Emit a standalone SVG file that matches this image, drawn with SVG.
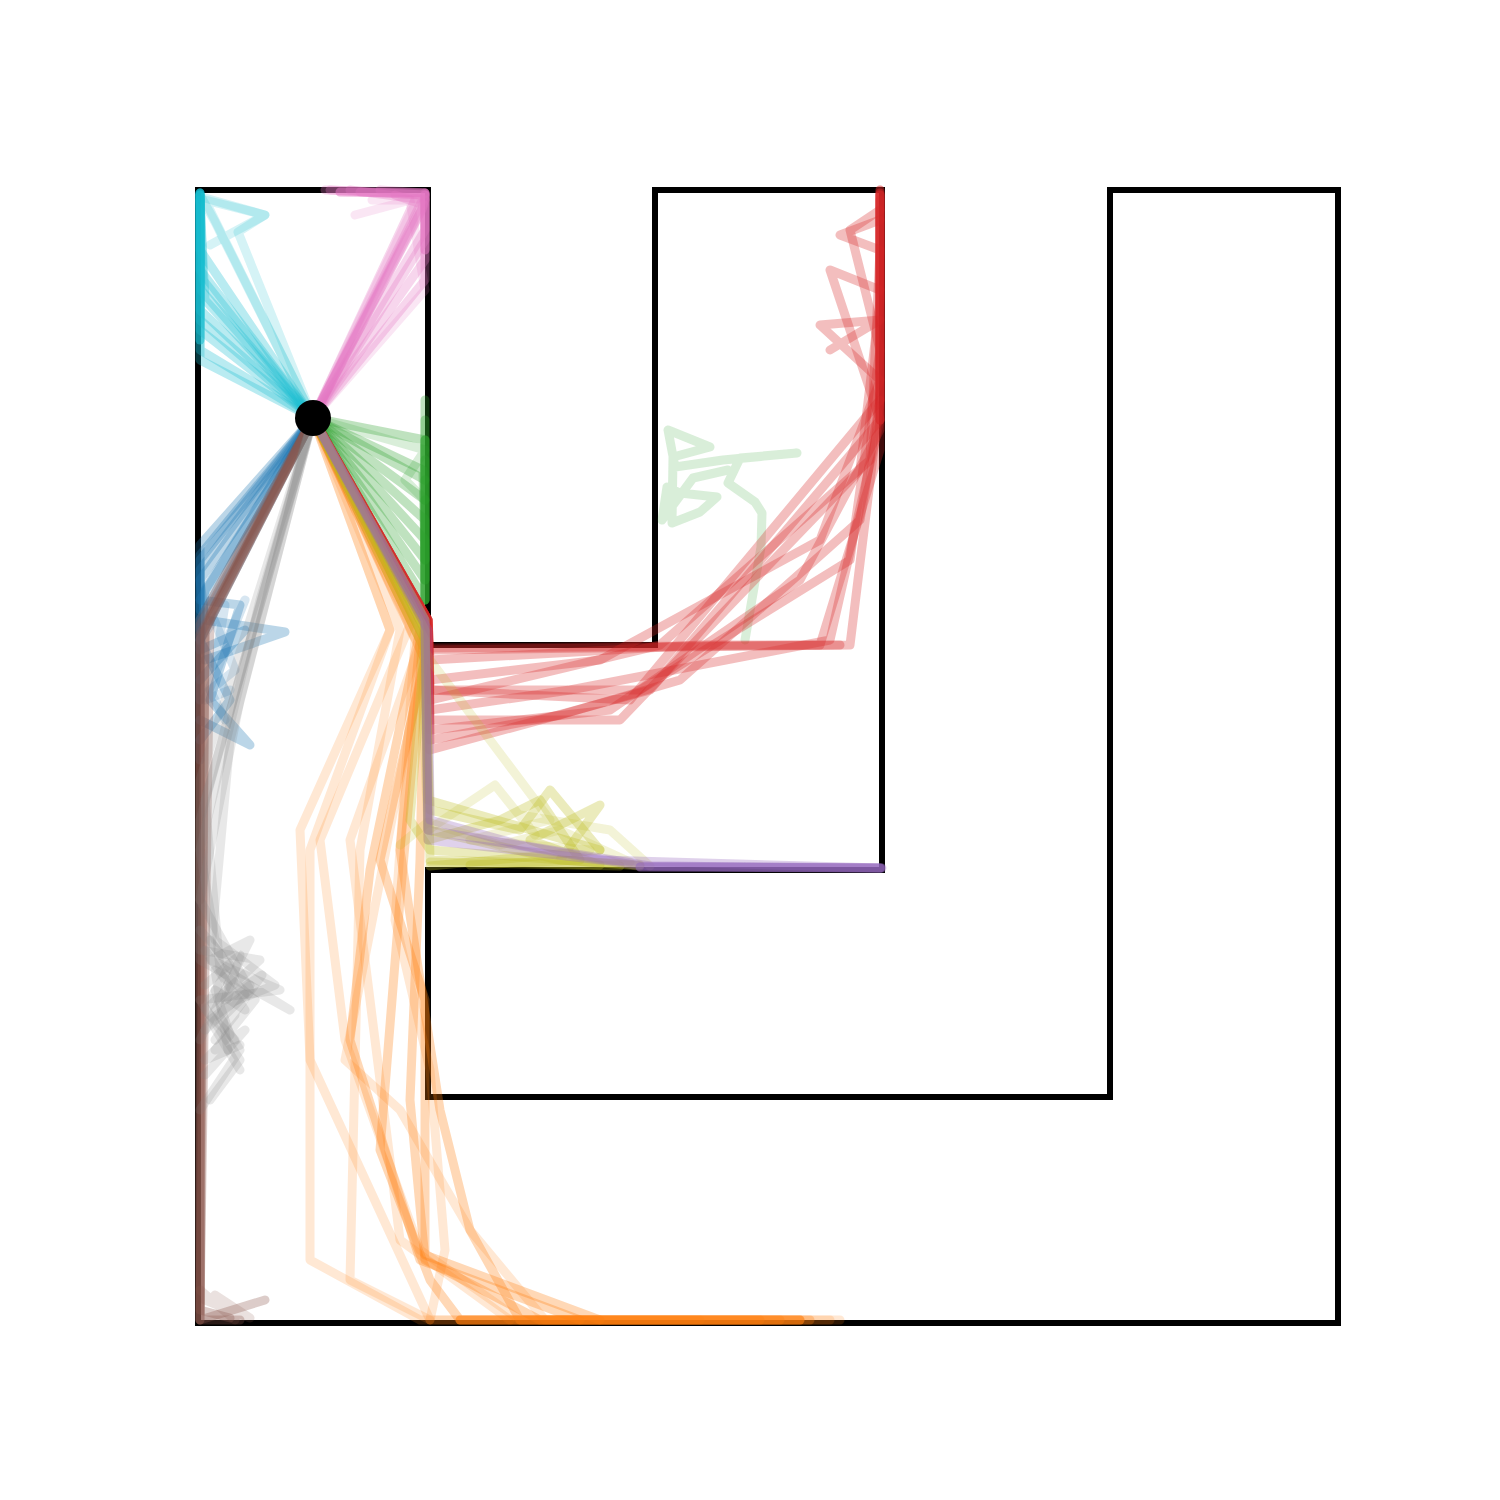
<svg xmlns="http://www.w3.org/2000/svg" width="1500" height="1500" viewBox="0 0 1500 1500">
<style>
.t{fill:none;stroke-width:9;stroke-linecap:round;stroke-linejoin:round;stroke-opacity:0.3}
.l{stroke-opacity:0.18}
.s{stroke-opacity:0.55}
.cy{stroke:#17becf}.pk{stroke:#e377c2}.gr{stroke:#2ca02c}.bl{stroke:#1f77b4}.br{stroke:#8c564b}
.gy{stroke:#7f7f7f}.or{stroke:#ff7f0e}.rd{stroke:#d62728}.ol{stroke:#bcbd22}.pu{stroke:#9467bd}
</style>
<rect width="1500" height="1500" fill="#fff"/>
<g id="maze">
<path d="M198,190 L428,190 L428,645 L655,645 L655,190 L882,190 L882,870 L428,870 L428,1097 L1110,1097 L1110,190 L1338,190 L1338,1323 L198,1323 Z" fill="none" stroke="#000" stroke-width="6"/>
</g>
<g id="trajectories">
<g id="cyan">
<path class="t cy" d="M313,418 L200,350 L200,193"/>
<path class="t cy" d="M313,418 L200,330 L200,195"/>
<path class="t cy" d="M313,418 L200,310 L200,195"/>
<path class="t cy" d="M313,418 L201,290 L200,195"/>
<path class="t cy" d="M313,418 L200,270 L200,195"/>
<path class="t cy" d="M313,418 L200,250 L200,195"/>
<path class="t cy" d="M313,418 L205,300 L200,200"/>
<path class="t cy" d="M313,418 L200,360 L200,200"/>
<path class="t cy" d="M313,418 L200,320 L200,193"/>
<path class="t cy" d="M313,418 L203,280 L200,193"/>
<path class="t cy s" d="M200,193 L200,340"/>
<path class="t cy l" d="M313,418 L238,232 L265,215 L205,198"/>
<path class="t cy l" d="M313,418 L205,200 L265,215 L210,245"/>
<path class="t cy l" d="M313,418 L215,222 L200,195"/>
</g>
<g id="pink">
<path class="t pk" d="M313,418 L425,195 L330,190"/>
<path class="t pk" d="M313,418 L425,200 L350,190"/>
<path class="t pk" d="M313,418 L422,210 L425,193 L380,190"/>
<path class="t pk" d="M313,418 L425,230 L425,193"/>
<path class="t pk" d="M313,418 L425,260 L425,195 L360,192"/>
<path class="t pk" d="M313,418 L425,280 L425,195"/>
<path class="t pk" d="M313,418 L415,200 L425,193 L325,190"/>
<path class="t pk" d="M313,418 L425,240 L425,195"/>
<path class="t pk" d="M313,418 L424,205 L395,195"/>
<path class="t pk s" d="M340,192 L425,193 L425,250"/>
<path class="t pk l" d="M313,418 L418,198 L355,215"/>
<path class="t pk l" d="M313,418 L425,290 L410,200 L372,200"/>
</g>
<g id="green">
<path class="t gr" d="M313,418 L425,440 L425,600"/>
<path class="t gr" d="M313,418 L425,480 L425,400"/>
<path class="t gr" d="M313,418 L425,520 L425,580"/>
<path class="t gr" d="M313,418 L425,560 L425,460"/>
<path class="t gr" d="M313,418 L425,600 L425,500"/>
<path class="t gr" d="M313,418 L425,500 L425,420"/>
<path class="t gr" d="M313,418 L423,470 L425,560"/>
<path class="t gr" d="M313,418 L425,540 L425,600"/>
<path class="t gr" d="M313,418 L425,580 L425,480"/>
<path class="t gr s" d="M425,440 L425,600"/>
<path class="t gr l" d="M313,418 L425,450 L405,480 L425,500"/>
<path class="t gr l" d="M745,640 L761,547 L762,513 L755,502 L728,483 L740,458 L797,453 L723,460 L675,467 L668,430 L710,447 L673,457 L672,523 L700,512 L717,497 L680,493 L667,487 L662,520 L693,478 L728,470"/>
</g>
<g id="blue">
<path class="t bl" d="M313,418 L200,545 L200,640"/>
<path class="t bl" d="M313,418 L200,560 L200,700"/>
<path class="t bl" d="M313,418 L200,580 L205,620 L285,632 L205,660"/>
<path class="t bl" d="M313,418 L200,600 L240,605 L210,700 L250,745 L200,720"/>
<path class="t bl" d="M313,418 L200,620 L200,760"/>
<path class="t bl" d="M313,418 L205,590 L200,650 L245,630 L200,680"/>
<path class="t bl" d="M313,418 L200,640 L230,700 L200,740"/>
<path class="t bl" d="M313,418 L200,570 L200,610"/>
<path class="t bl" d="M313,418 L200,555 L200,630"/>
<path class="t bl l" d="M313,418 L210,610 L235,670 L210,690 L225,720"/>
<path class="t bl l" d="M200,640 L225,605 L215,665 L245,600 L205,700 L230,690"/>
</g>
<g id="brown">
<path class="t br" d="M313,418 L200,625 L200,1320"/>
<path class="t br" d="M313,418 L200,640 L200,1000"/>
<path class="t br" d="M313,418 L205,630 L200,1200 L200,1320 L265,1300"/>
<path class="t br" d="M313,418 L200,635 L200,1320 L240,1320"/>
<path class="t br" d="M313,418 L200,620 L200,900"/>
<path class="t br" d="M313,418 L210,615 L200,1310 L230,1318"/>
<path class="t br" d="M313,418 L205,628 L200,1320"/>
<path class="t br l" d="M200,1290 L235,1320 L215,1295 L250,1318 L205,1300"/>
</g>
<g id="gray">
<path class="t gy l" d="M313,418 L200,780 L200,960 L290,1010 L210,960 L250,940 L200,1040"/>
<path class="t gy l" d="M313,418 L230,740 L210,960 L280,990 L200,1000 L240,1060 L210,1100"/>
<path class="t gy l" d="M313,418 L250,640 L200,820 L200,950 L260,960 L205,1010 L235,1040"/>
<path class="t gy l" d="M313,418 L205,800 L220,970 L255,1000 L215,1050 L245,1030 L205,1075"/>
<path class="t gy l" d="M313,418 L240,700 L200,900 L250,990 L210,1020 L240,1070"/>
<path class="t gy l" d="M313,418 L260,600 L200,850 L215,940 L275,985 L225,1005 L250,985 L205,1030"/>
<path class="t gy l" d="M200,930 L230,965 L210,1000 L240,1050 L220,1080 L200,1110"/>
<path class="t gy l" d="M205,950 L245,1010 L215,990 L230,1035 L205,1060 L240,1045"/>
<path class="t gy l" d="M210,940 L235,975 L220,1020 L245,995 L215,970 L228,1050"/>
<path class="t gy l" d="M205,985 L240,955 L225,1000 L262,975 L215,1040 L235,1015"/>
</g>
<g id="orange">
<path class="t or l" d="M313,418 L390,630 L300,830 L310,1060 L430,1320 L800,1320"/>
<path class="t or l" d="M313,418 L410,625 L320,840 L345,1040 L420,1250 L520,1320 L830,1320"/>
<path class="t or l" d="M313,418 L390,630 L310,850 L310,1260 L420,1320 L700,1320"/>
<path class="t or" d="M313,418 L420,630 L370,870 L350,1040 L420,1260 L580,1320"/>
<path class="t or" d="M313,418 L425,640 L420,860 L410,1100 L425,1260 L540,1320 L780,1320"/>
<path class="t or" d="M313,418 L425,620 L400,900 L380,1150 L430,1280 L460,1320 L810,1320"/>
<path class="t or l" d="M313,418 L425,630 L350,840 L370,1000 L400,1240 L510,1320"/>
<path class="t or" d="M313,418 L420,640 L400,850 L440,1110 L470,1230 L520,1320 L760,1320"/>
<path class="t or l" d="M313,418 L400,630 L360,850 L350,1280 L430,1320"/>
<path class="t or l" d="M313,418 L425,650 L345,1060 L400,1110 L470,1230 L545,1320 L840,1320"/>
<path class="t or" d="M313,418 L425,660 L380,860 L425,1000 L425,1255 L600,1320"/>
<path class="t or l" d="M313,418 L415,640 L395,920 L430,1070 L445,1250 L430,1320"/>
<path class="t or s" d="M460,1320 L800,1320"/>
</g>
<g id="red">
<path class="t rd" d="M313,418 L428,620 L430,690 L630,700 L880,400 L880,190"/>
<path class="t rd" d="M313,418 L428,620 L430,650 L850,645 L880,400 L880,200"/>
<path class="t rd" d="M313,418 L428,620 L430,720 L620,720 L860,470 L880,300 L880,195"/>
<path class="t rd" d="M313,418 L428,620 L430,750 L650,690 L880,420 L880,195"/>
<path class="t rd" d="M313,418 L428,620 L430,700 L660,645 L870,460 L880,250 L840,235 L880,220"/>
<path class="t rd" d="M313,418 L428,625 L430,680 L600,660 L820,540 L880,380 L820,325 L880,320 L830,350"/>
<path class="t rd" d="M313,418 L428,620 L430,710 L570,690 L830,640 L880,420 L830,270 L880,290"/>
<path class="t rd" d="M313,418 L428,620 L430,660 L700,645 L820,645 L880,450 L880,190"/>
<path class="t rd" d="M313,418 L428,620 L430,740 L560,715 L680,680 L860,520 L880,400"/>
<path class="t rd" d="M313,418 L428,620 L430,690 L640,690 L850,560 L880,350 L850,230 L880,210"/>
<path class="t rd" d="M313,418 L428,630 L430,730 L610,710 L800,580 L880,430 L880,195"/>
<path class="t rd s" d="M880,193 L880,420"/>
<path class="t rd" d="M430,648 L840,645"/>
</g>
<g id="olive">
<path class="t ol" d="M313,418 L425,630 L428,830 L560,860 L640,865"/>
<path class="t ol" d="M313,418 L425,640 L430,810 L520,830 L550,790 L600,850"/>
<path class="t ol" d="M313,418 L425,620 L428,840 L500,820 L540,800 L580,860 L470,865"/>
<path class="t ol" d="M313,418 L425,620 L430,860 L600,865 L530,840 L600,805 L560,860"/>
<path class="t ol l" d="M313,418 L430,660 L550,820 L470,840 L590,850"/>
<path class="t ol" d="M313,418 L425,640 L410,820 L430,850 L640,866"/>
<path class="t ol" d="M313,418 L425,630 L428,800 L600,850 L430,866"/>
<path class="t ol" d="M430,862 L620,866"/>
<path class="t ol l" d="M313,418 L420,640 L428,830 L495,785 L535,835 L520,815 L610,830 L650,866"/>
<path class="t ol l" d="M400,845 L428,822 L500,845 L560,830 L630,862"/>
</g>
<g id="purple">
<path class="t pu" d="M313,418 L425,620 L428,830 L640,866 L882,868"/>
<path class="t pu" d="M313,418 L425,620 L428,840 L600,860 L880,868"/>
<path class="t pu" d="M313,418 L428,630 L430,820 L520,845 L650,866 L880,868"/>
<path class="t pu s" d="M640,867 L881,868"/>
</g>
</g>
<g id="start">
<circle cx="313" cy="418" r="18" fill="#000"/>
</g>
</svg>
